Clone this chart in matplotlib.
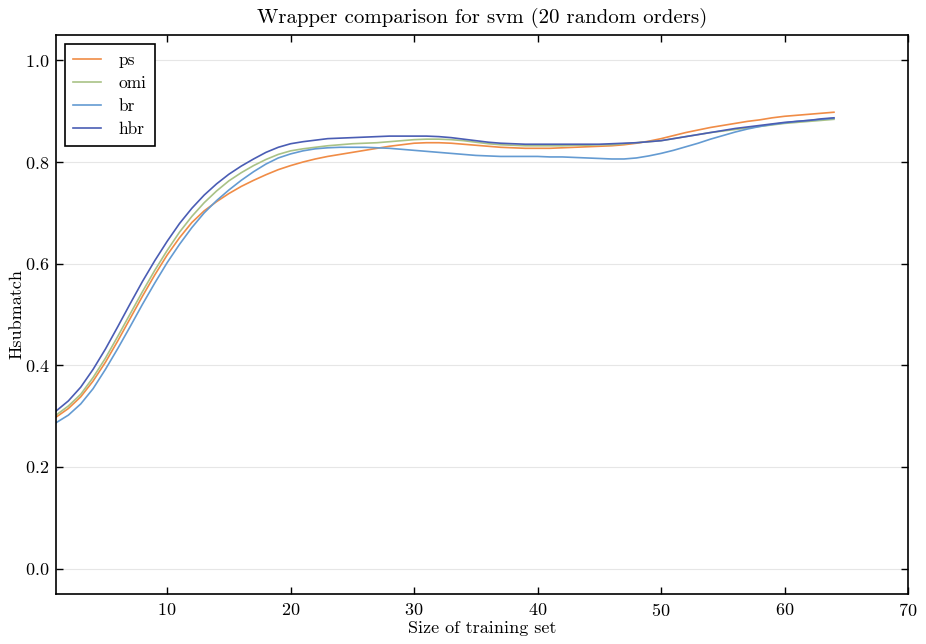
import matplotlib
matplotlib.use("Agg")
import matplotlib.pyplot as plt

x = list(range(1, 65))

ps = [0.298, 0.315, 0.338, 0.369, 0.406, 0.448, 0.492, 0.536, 0.578, 0.617,
      0.651, 0.681, 0.704, 0.722, 0.738, 0.752, 0.764, 0.775, 0.785, 0.793,
      0.800, 0.806, 0.811, 0.815, 0.819, 0.823, 0.827, 0.831, 0.834, 0.837,
      0.838, 0.838, 0.837, 0.835, 0.833, 0.831, 0.829, 0.828, 0.827, 0.827,
      0.827, 0.828, 0.829, 0.830, 0.831, 0.832, 0.834, 0.837, 0.841, 0.846,
      0.852, 0.858, 0.863, 0.868, 0.872, 0.876, 0.880, 0.883, 0.887, 0.890,
      0.892, 0.894, 0.896, 0.898]

omi = [0.302, 0.320, 0.343, 0.376, 0.414, 0.457, 0.501, 0.545, 0.587, 0.626,
       0.662, 0.693, 0.720, 0.743, 0.763, 0.779, 0.793, 0.805, 0.815, 0.822,
       0.826, 0.829, 0.832, 0.834, 0.836, 0.837, 0.838, 0.840, 0.842, 0.844,
       0.845, 0.845, 0.844, 0.842, 0.839, 0.836, 0.834, 0.833, 0.832, 0.832,
       0.832, 0.832, 0.833, 0.833, 0.834, 0.834, 0.836, 0.838, 0.840, 0.842,
       0.846, 0.850, 0.854, 0.858, 0.861, 0.864, 0.867, 0.870, 0.873, 0.876,
       0.878, 0.880, 0.882, 0.884]

br = [0.287, 0.302, 0.324, 0.354, 0.392, 0.433, 0.476, 0.520, 0.562, 0.602,
      0.638, 0.671, 0.700, 0.724, 0.745, 0.764, 0.781, 0.796, 0.808, 0.816,
      0.822, 0.826, 0.828, 0.829, 0.829, 0.829, 0.828, 0.827, 0.825, 0.823,
      0.821, 0.819, 0.817, 0.815, 0.813, 0.812, 0.811, 0.811, 0.811, 0.811,
      0.810, 0.810, 0.809, 0.808, 0.807, 0.806, 0.806, 0.808, 0.812, 0.817,
      0.823, 0.830, 0.837, 0.845, 0.852, 0.859, 0.865, 0.870, 0.874, 0.877,
      0.880, 0.882, 0.884, 0.886]

hbr = [0.310, 0.330, 0.357, 0.392, 0.432, 0.476, 0.521, 0.565, 0.606, 0.644,
       0.679, 0.709, 0.735, 0.757, 0.776, 0.792, 0.806, 0.819, 0.829, 0.836,
       0.840, 0.843, 0.846, 0.847, 0.848, 0.849, 0.850, 0.851, 0.851, 0.851,
       0.851, 0.850, 0.848, 0.845, 0.842, 0.839, 0.837, 0.836, 0.835, 0.835,
       0.835, 0.835, 0.835, 0.835, 0.835, 0.836, 0.837, 0.838, 0.840, 0.842,
       0.846, 0.850, 0.854, 0.858, 0.862, 0.866, 0.869, 0.872, 0.875, 0.878,
       0.880, 0.882, 0.885, 0.887]

series = [("ps", ps, "#F08C46"), ("omi", omi, "#A9C286"),
          ("br", br, "#649BD2"), ("hbr", hbr, "#4A5DB4")]

plt.rcParams["font.family"] = ["cmr10", "DejaVu Serif"]
plt.rcParams["mathtext.fontset"] = "cm"
plt.rcParams["axes.formatter.use_mathtext"] = True

fig = plt.figure(figsize=(9.26, 6.44), dpi=100)
ax = fig.add_axes([0.0605, 0.0776, 0.9201, 0.8681])

for name, ys, c in series:
    ax.plot(x, ys, color=c, lw=1.2, label=name)

ax.set_xlim(1, 70)
ax.set_ylim(-0.05, 1.05)
ax.set_xticks([10, 20, 30, 40, 50, 60, 70])
ax.set_yticks([0.0, 0.2, 0.4, 0.6, 0.8, 1.0])
ax.yaxis.grid(True, color="#e6e6e6", lw=0.8)
ax.set_axisbelow(True)
ax.tick_params(direction="in", top=True, right=True, length=5, width=1,
               labelsize=13, pad=6)
ax.tick_params(axis="y", pad=5)
for s in ax.spines.values():
    s.set_linewidth(1.2)

ax.set_title("Wrapper comparison for svm (20 random orders)", fontsize=15, pad=9)
ax.set_xlabel("Size of training set", fontsize=13, labelpad=1)
ax.set_ylabel("Hsubmatch", fontsize=13, labelpad=0)

leg = ax.legend(loc="upper left", fontsize=12.5, fancybox=False, framealpha=1,
                edgecolor="black", handlelength=1.6, borderpad=0.5,
                labelspacing=0.45, handletextpad=1.0, borderaxespad=0.5)
leg.get_frame().set_linewidth(1.2)

fig.savefig("out.png", dpi=100)
